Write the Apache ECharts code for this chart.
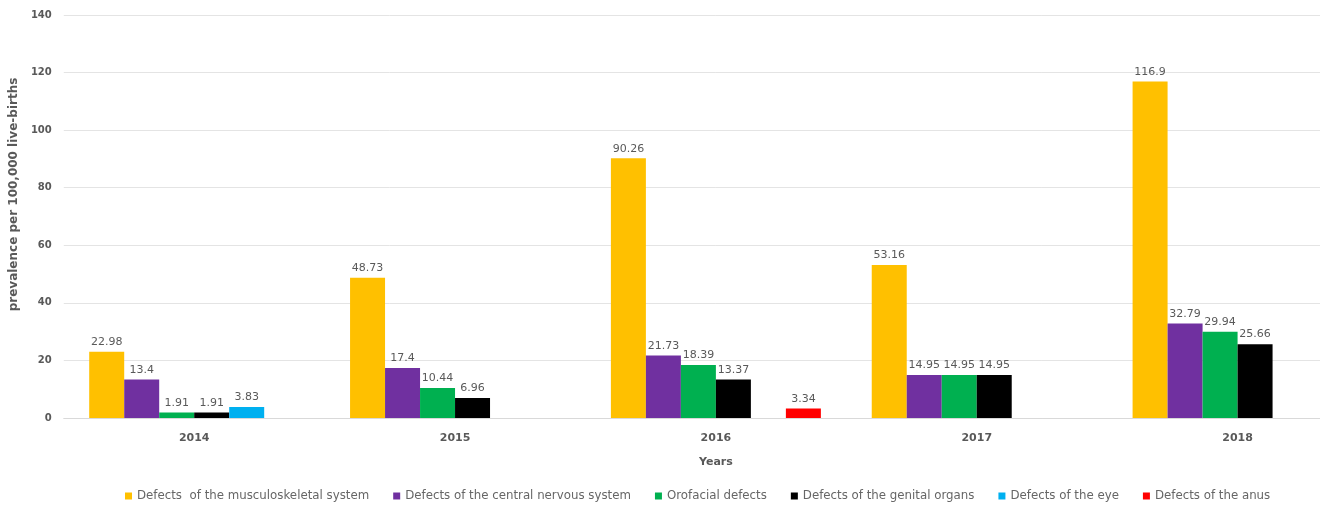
<!DOCTYPE html>
<html>
<head>
<meta charset="utf-8">
<script src="https://cdn.jsdelivr.net/npm/echarts@6/dist/echarts.min.js"></script>
<style>
  html, body { margin: 0; padding: 0; background: #fff; overflow: hidden; }
  /* the reference is cropped on the right, so the chart runs past the window */
  #chart { width: 1368px; height: 510px; }
</style>
</head>
<body>
<div id="chart"></div>
<script>
// data
var years = ['2014', '2015', '2016', '2017', '2018'];
var musculoskeletal = [22.98, 48.73, 90.26, 53.16, 116.9];
var nervous = [13.4, 17.4, 21.73, 14.95, 32.79];
var orofacial = [1.91, 10.44, 18.39, 14.95, 29.94];
var genital = [1.91, 6.96, 13.37, 14.95, 25.66];
var eye = [3.83, null, null, null, null];
var anus = [null, null, 3.34, null, null];
var yTicks = [0, 20, 40, 60, 80, 100, 120, 140];

var font = 'DejaVu Sans';

function bar(name, data, color) {
  return {
    name: name,
    type: 'bar',
    data: data,
    barGap: 0,
    barCategoryGap: '19.5%',
    itemStyle: { color: color },
    label: {
      show: true,
      position: 'top',
      distance: 4,
      color: '#595959',
      fontFamily: font,
      fontSize: 11
    }
  };
}

var chart = echarts.init(document.getElementById('chart'));
chart.setOption({
  animation: false,
  textStyle: { fontFamily: font },
  grid: { left: 62, right: 0, top: 15, bottom: 92 },
  legend: {
    bottom: 3,
    left: 120,
    itemWidth: 7,
    itemHeight: 7,
    itemGap: 24,
    icon: 'rect',
    textStyle: { color: '#666666', fontSize: 11.8, fontFamily: font }
  },
  xAxis: {
    type: 'category',
    data: years,
    name: 'Years',
    nameLocation: 'middle',
    nameGap: 39,
    nameTextStyle: { fontWeight: 'bold', fontSize: 11, color: '#595959', fontFamily: font },
    axisTick: { show: false },
    axisLine: { lineStyle: { color: '#d9d9d9' } },
    axisLabel: { fontWeight: 'bold', fontSize: 11, color: '#595959', margin: 15, fontFamily: font }
  },
  yAxis: {
    type: 'value',
    min: yTicks[0],
    max: yTicks[yTicks.length - 1],
    interval: 20,
    name: 'prevalence per 100,000 live-births',
    nameLocation: 'middle',
    nameGap: 36,
    nameTextStyle: { fontWeight: 'bold', fontSize: 12, color: '#595959', fontFamily: font, padding: [0, 0, 0, 44] },
    axisLabel: { fontWeight: 'bold', fontSize: 10, color: '#595959', margin: 12, fontFamily: font },
    splitLine: { lineStyle: { color: '#e4e4e4' } }
  },
  // gridlines stop a little short of the right edge in the reference
  graphic: [{
    type: 'rect',
    z: 100,
    shape: { x: 1320, y: 0, width: 48, height: 425 },
    style: { fill: '#ffffff' }
  }],
  series: [
    bar('Defects  of the musculoskeletal system', musculoskeletal, '#FFC000'),
    bar('Defects of the central nervous system', nervous, '#7030A0'),
    bar('Orofacial defects', orofacial, '#00B050'),
    bar('Defects of the genital organs', genital, '#000000'),
    bar('Defects of the eye', eye, '#00B0F0'),
    bar('Defects of the anus', anus, '#FF0000')
  ]
});
</script>
</body>
</html>
